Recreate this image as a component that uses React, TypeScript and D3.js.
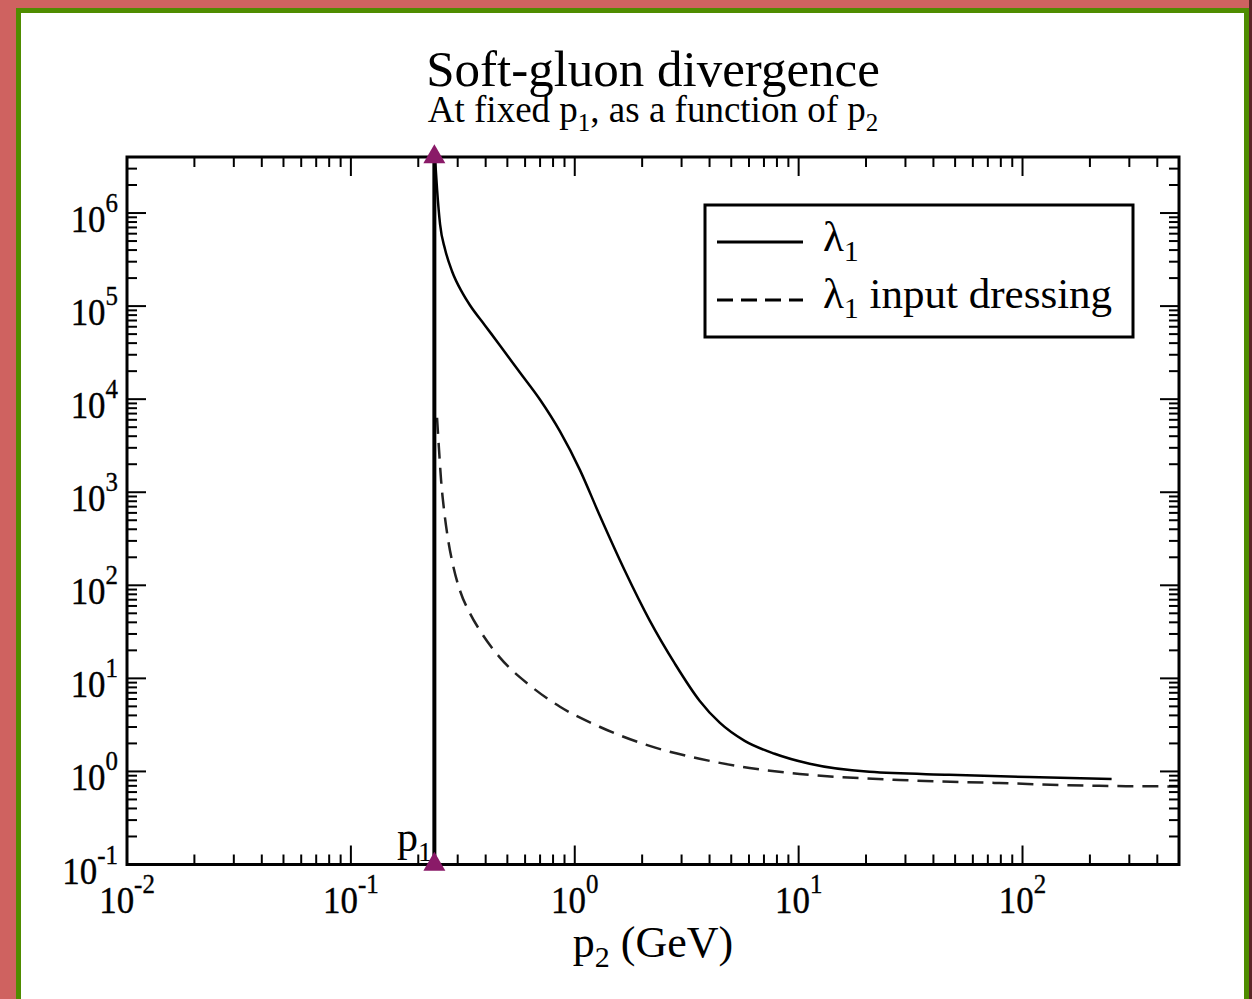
import React from "react";
import * as d3 from "d3";

const titleText = "Soft-gluon divergence";
const xLabelMain = "p";
const xLabelSub = "2";
const xLabelRest = " (GeV)";
const legendLabels = ["", " input dressing"];

const xMajor = [0.01, 0.1, 1, 10, 100];
const xExponents = ["-2", "-1", "0", "1", "2"];
const yMajor = [0.1, 1, 10, 100, 1e3, 1e4, 1e5, 1e6];
const yExponents = ["-1", "0", "1", "2", "3", "4", "5", "6"];
const xDomain = [0.01, 500];
const yDomain = [0.1, 4e6];

const p1Value = 0.236;

const lambdaP2 = [0.2377, 0.2426, 0.2502, 0.2634, 0.283, 0.3136, 0.3404, 0.3972, 0.4634, 0.569, 0.6988, 0.859, 1.054, 1.29, 1.67, 2.16, 2.8, 3.61, 4.44, 5.74, 7.81, 11.2, 20.7, 47, 107, 250];
const lambdaValues = [3.82e6, 1.81e6, 7.6e5, 4.09e5, 2.37e5, 1.41e5, 1.02e5, 6.2e4, 3.78e4, 1.93e4, 9.9e3, 4.5e3, 1.74e3, 569, 145, 42, 14.4, 5.76, 3.34, 2.13, 1.55, 1.21, 0.99, 0.92, 0.87, 0.83];

const dressingP2 = [0.2426, 0.2476, 0.2528, 0.2607, 0.272, 0.286, 0.307, 0.3404, 0.377, 0.4634, 0.63, 0.859, 1.29, 2.16, 3.61, 6.04, 10.1, 28.2, 78.7, 220, 500];
const dressingValues = [6.32e3, 2.86e3, 1.36e3, 644, 306, 164, 88, 50, 32.7, 16.7, 8.4, 4.96, 3.02, 1.88, 1.37, 1.09, 0.94, 0.81, 0.75, 0.7, 0.69];

const W = 1252;
const H = 999;
const L = 127, R = 1179, T = 157, B = 864.5;
const FONT = "'Liberation Serif', 'Times New Roman', Times, serif";

function PowLabel({ x, y, exp, anchor }: { x: number; y: number; exp: string; anchor: string }) {
  return (
    <g transform={`translate(${x},${y}) scale(0.92,1)`}>
      <text textAnchor={anchor} fontFamily={FONT} fontSize={38} fill="#000" stroke="#000" strokeWidth={0.4}>
        10
        <tspan fontSize={27} dy={-20}>{exp}</tspan>
      </text>
    </g>
  );
}

export default function App() {
  const x = d3.scaleLog().domain(xDomain).range([L, R]);
  const y = d3.scaleLog().domain(yDomain).range([B, T]);

  const isMajor = (v: number) => Math.abs(Math.log10(v) - Math.round(Math.log10(v))) < 1e-9;
  const xMinor = x.ticks().filter((v) => !isMajor(v));
  const yMinor = y.ticks().filter((v) => !isMajor(v));

  const line = d3
    .line<[number, number]>()
    .x((d) => x(d[0]))
    .y((d) => y(d[1]))
    .curve(d3.curveMonotoneX);

  const lambdaData: [number, number][] = lambdaP2.map((p, i) => [p, lambdaValues[i]]);
  const dressingData: [number, number][] = dressingP2.map((p, i) => [p, dressingValues[i]]);

  const majLen = 19;
  const minLen = 10;
  const px1 = x(p1Value);
  const tri = d3.symbol().type(d3.symbolTriangle).size(210)() as string;

  return (
    <svg width={W} height={H} style={{ position: "absolute", left: 0, top: 0 }}>
      <defs>
        <clipPath id="plotClip">
          <rect x={L} y={T} width={R - L} height={B - T} />
        </clipPath>
      </defs>
      <rect x={0} y={0} width={W} height={H} fill="#cf6260" />
      <rect x={1249} y={0} width={3} height={H} fill="#5a2626" />
      <rect x={18.5} y={10.5} width={1228} height={H + 20} fill="#fff" stroke="#4f8c00" strokeWidth={5} />

      {/* title */}
      <text x={(L + R) / 2} y={86} textAnchor="middle" fontFamily={FONT} fontSize={51} fill="#000">
        {titleText}
      </text>
      <text x={(L + R) / 2} y={122} textAnchor="middle" fontFamily={FONT} fontSize={37} fill="#000">
        At fixed p<tspan fontSize={25} dy={9}>1</tspan>
        <tspan dy={-9}>, as a function of p</tspan>
        <tspan fontSize={25} dy={9}>2</tspan>
      </text>

      {/* curves */}
      <g clipPath="url(#plotClip)">
        <path d={line(lambdaData) || ""} fill="none" stroke="#000" strokeWidth={2.5} />
        <path d={line(dressingData) || ""} fill="none" stroke="#222" strokeWidth={2.5} strokeDasharray="16 9" />
      </g>

      {/* p1 vertical line */}
      <line x1={px1} x2={px1} y1={y(yDomain[1])} y2={y(yDomain[0])} stroke="#000" strokeWidth={4} />

      {/* ticks */}
      <g stroke="#000" strokeWidth={2}>
        {xMajor.map((v) => (
          <g key={"xM" + v}>
            <line x1={x(v)} x2={x(v)} y1={B} y2={B - majLen} />
            <line x1={x(v)} x2={x(v)} y1={T} y2={T + majLen} />
          </g>
        ))}
        {xMinor.map((v) => (
          <g key={"xm" + v}>
            <line x1={x(v)} x2={x(v)} y1={B} y2={B - minLen} />
            <line x1={x(v)} x2={x(v)} y1={T} y2={T + minLen} />
          </g>
        ))}
        {yMajor.map((v) => (
          <g key={"yM" + v}>
            <line x1={L} x2={L + majLen} y1={y(v)} y2={y(v)} />
            <line x1={R} x2={R - majLen} y1={y(v)} y2={y(v)} />
          </g>
        ))}
        {yMinor.map((v) => (
          <g key={"ym" + v}>
            <line x1={L} x2={L + minLen} y1={y(v)} y2={y(v)} />
            <line x1={R} x2={R - minLen} y1={y(v)} y2={y(v)} />
          </g>
        ))}
      </g>
      <rect x={L} y={T} width={R - L} height={B - T} fill="none" stroke="#000" strokeWidth={3} />

      {/* tick labels */}
      {yMajor.map((v, i) => (
        <PowLabel key={"yl" + v} x={118} y={y(v) + 19} exp={yExponents[i]} anchor="end" />
      ))}
      {xMajor.map((v, i) => (
        <PowLabel key={"xl" + v} x={x(v)} y={913} exp={xExponents[i]} anchor="middle" />
      ))}

      {/* axis label */}
      <text x={(L + R) / 2} y={957} textAnchor="middle" fontFamily={FONT} fontSize={44} fill="#000">
        {xLabelMain}
        <tspan fontSize={30} dy={10}>{xLabelSub}</tspan>
        <tspan dy={-10}>{xLabelRest}</tspan>
      </text>

      {/* p1 label */}
      <text x={397} y={851} fontFamily={FONT} fontSize={42} fill="#000">
        p<tspan fontSize={28} dy={10}>1</tspan>
      </text>

      {/* markers */}
      <path d={tri} transform={`translate(${px1},${y(yDomain[1])})`} fill="#8a1a68" />
      <path d={tri} transform={`translate(${px1},${y(yDomain[0])})`} fill="#8a1a68" />

      {/* legend */}
      <rect x={705} y={205} width={428} height={132} fill="#fff" stroke="#000" strokeWidth={3} />
      <line x1={717} x2={803} y1={242} y2={242} stroke="#000" strokeWidth={3} />
      <line x1={717} x2={803} y1={300} y2={300} stroke="#000" strokeWidth={3} strokeDasharray="16 8" />
      <text x={823} y={251} fontFamily={FONT} fontSize={43} fill="#000">
        λ<tspan fontSize={30} dy={10}>1</tspan>
        <tspan dy={-10}>{legendLabels[0]}</tspan>
      </text>
      <text x={823} y={308} fontFamily={FONT} fontSize={43} fill="#000">
        λ<tspan fontSize={30} dy={10}>1</tspan>
        <tspan dy={-10}>{legendLabels[1]}</tspan>
      </text>
    </svg>
  );
}
